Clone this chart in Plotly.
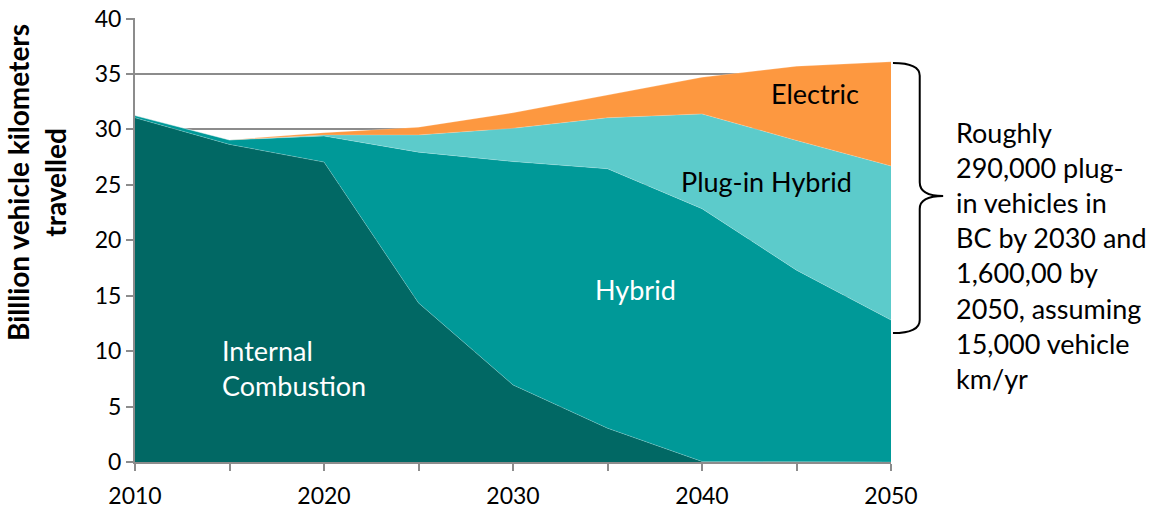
import plotly.graph_objects as go

years = [2010, 2015, 2020, 2025, 2030, 2035, 2040, 2045, 2050]

# billion vehicle km travelled, per drivetrain (stacked)
internal_combustion = [31.05, 28.65, 27.05, 14.35, 6.95, 3.05, 0.05, 0.0, 0.0]
hybrid = [0.2, 0.4, 2.35, 13.6, 20.15, 23.4, 22.8, 17.3, 12.8]
plug_in_hybrid = [0.0, 0.0, 0.1, 1.55, 3.0, 4.6, 8.55, 11.7, 13.9]
electric = [0.0, 0.0, 0.2, 0.7, 1.4, 2.05, 3.3, 6.7, 9.4]

series = [
    ("Internal Combustion", internal_combustion, "#016864"),
    ("Hybrid", hybrid, "#009998"),
    ("Plug-in Hybrid", plug_in_hybrid, "#5ccbcb"),
    ("Electric", electric, "#fd9840"),
]

xtick_vals = list(range(2010, 2051, 5))
xtick_text = [str(y) if y % 10 == 0 else "" for y in xtick_vals]
ytick_vals = list(range(0, 41, 5))

FONT = "Lato, 'Open Sans', sans-serif"
LABEL = 27

fig = go.Figure()
for name, vals, col in series:
    fig.add_trace(go.Scatter(
        x=years, y=vals, name=name, mode="lines", stackgroup="one",
        line=dict(width=0.6, color="rgba(255,255,255,0.35)"),
        fillcolor=col, hoverinfo="x+y+name"))

# area labels
fig.add_annotation(x=2014.5, y=8.5, text="Internal<br>Combustion", showarrow=False,
                   xanchor="left", align="left", font=dict(size=LABEL, color="white"))
fig.add_annotation(x=2036.5, y=15.6, text="Hybrid", showarrow=False,
                   font=dict(size=LABEL, color="white"))
fig.add_annotation(x=2043.4, y=25.3, text="Plug-in Hybrid", showarrow=False,
                   font=dict(size=LABEL, color="black"))
fig.add_annotation(x=2046.0, y=33.2, text="Electric", showarrow=False,
                   font=dict(size=LABEL, color="black"))

# side note + brace
fig.add_annotation(xref="paper", yref="paper", x=1.083, y=0.466, xanchor="left",
                   yanchor="middle", align="left", showarrow=False,
                   text="Roughly<br>290,000 plug-<br>in vehicles in<br>BC by 2030 and"
                        "<br>1,600,00 by<br>2050, assuming<br>15,000 vehicle<br>km/yr",
                   font=dict(size=27, color="black"))
brace = ("M 1.0026,0.8986 Q 1.038,0.8986 1.038,0.87 L 1.038,0.63 "
         "Q 1.038,0.599 1.069,0.599 Q 1.038,0.599 1.038,0.57 L 1.038,0.32 "
         "Q 1.038,0.2905 1.0026,0.2905")
fig.add_shape(type="path", xref="paper", yref="paper", path=brace,
              line=dict(color="black", width=2))

# y title, placed by hand (sits above plot centre in the original)
fig.add_annotation(xref="paper", yref="paper", x=-0.13, y=0.63, textangle=-90,
                   xanchor="center", yanchor="middle", showarrow=False,
                   text="<b>Billlion vehicle kilometers<br>travelled</b>",
                   font=dict(size=28, color="black"))

fig.update_layout(
    width=1153, height=516, showlegend=False,
    paper_bgcolor="white", plot_bgcolor="white",
    margin=dict(l=135, r=262, t=18, b=54),
    font=dict(family=FONT, size=23, color="black"),
    xaxis=dict(range=[2010, 2050], tickvals=xtick_vals, ticktext=xtick_text,
               ticks="outside", ticklen=7, tickcolor="#8c8c8c", tickwidth=2,
               ticklabelstandoff=5,
               showline=True, linecolor="#8c8c8c", linewidth=2, showgrid=False,
               zeroline=False, automargin=False, tickfont=dict(size=23)),
    # range nudged past 40 so the top gridline is drawn too
    yaxis=dict(range=[0, 40.05], tickvals=ytick_vals, ticks="outside", ticklen=7,
               tickcolor="#8c8c8c", tickwidth=2, showline=True, linecolor="#8c8c8c",
               linewidth=2, showgrid=True, gridcolor="#8c8c8c", gridwidth=1.5,
               zeroline=False, automargin=False, tickfont=dict(size=23)),
)

# drop the default 8px page margin so the figure sits at the window origin
fig.write_html("out.html", config={"displayModeBar": False},
               post_script="document.body.style.margin='0px';")
